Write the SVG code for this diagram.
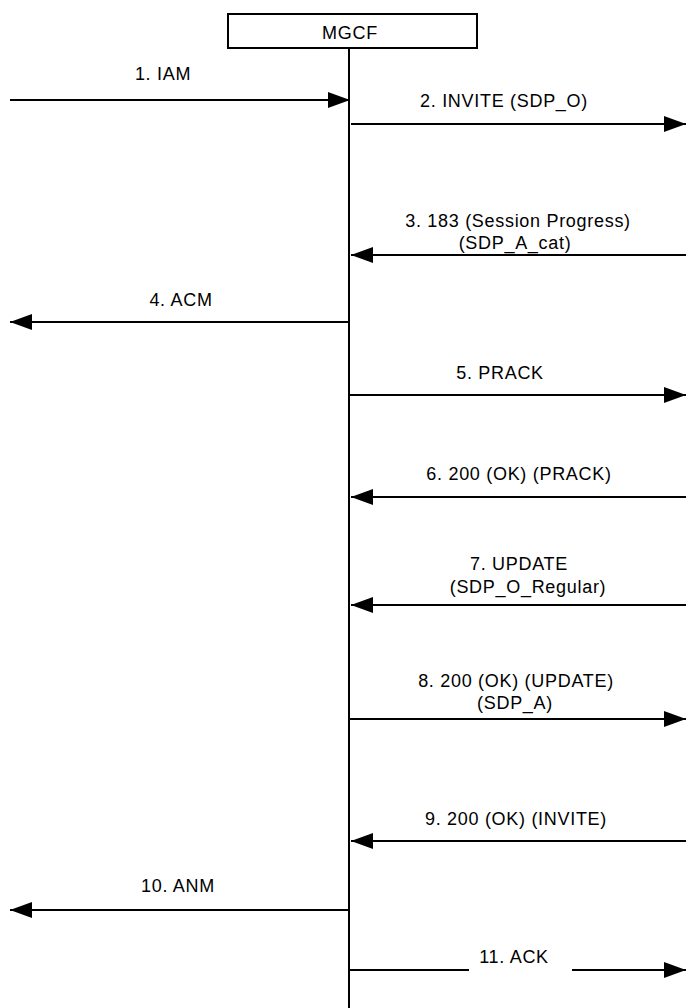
<svg xmlns="http://www.w3.org/2000/svg" width="686" height="1008" viewBox="0 0 686 1008">
<style>
text{font-family:"Liberation Sans",Arial,sans-serif;font-size:18px;letter-spacing:0.7px;fill:#000;text-anchor:middle}
.ln{stroke:#000;stroke-width:2;fill:none}
</style>
<defs>
<marker id="ah" markerUnits="userSpaceOnUse" markerWidth="22" markerHeight="16" refX="22" refY="8" orient="auto">
<path d="M0,0 L22,8 L0,16 Z" fill="#000"/>
</marker>
</defs>
<rect width="686" height="1008" fill="#fff"/>
<g id="mgcf">
<rect x="228" y="14" width="249" height="34" class="ln"/>
<text x="350" y="39">MGCF</text>
<line x1="349" y1="48" x2="349" y2="1008" class="ln"/>
</g>
<g id="connectors">
<line x1="10" y1="100" x2="350" y2="100" class="ln" marker-end="url(#ah)"/>
<line x1="351" y1="124" x2="686" y2="124" class="ln" marker-end="url(#ah)"/>
<line x1="686" y1="255" x2="351" y2="255" class="ln" marker-end="url(#ah)"/>
<line x1="349" y1="322" x2="10" y2="322" class="ln" marker-end="url(#ah)"/>
<line x1="349" y1="395" x2="686" y2="395" class="ln" marker-end="url(#ah)"/>
<line x1="686" y1="497" x2="351" y2="497" class="ln" marker-end="url(#ah)"/>
<line x1="686" y1="605" x2="351" y2="605" class="ln" marker-end="url(#ah)"/>
<line x1="349" y1="719" x2="686" y2="719" class="ln" marker-end="url(#ah)"/>
<line x1="686" y1="841" x2="351" y2="841" class="ln" marker-end="url(#ah)"/>
<line x1="349" y1="910" x2="10" y2="910" class="ln" marker-end="url(#ah)"/>
<line x1="349" y1="970" x2="469" y2="970" class="ln"/>
<line x1="572" y1="970" x2="686" y2="970" class="ln" marker-end="url(#ah)"/>
</g>
<g id="labels">
<text x="163" y="80">1. IAM</text>
<text x="504" y="107">2. INVITE (SDP_O)</text>
<text x="518" y="227">3. 183 (Session Progress)</text>
<text x="515" y="249">(SDP_A_cat)</text>
<text x="181" y="306">4. ACM</text>
<text x="500" y="379">5. PRACK</text>
<text x="519" y="480">6. 200 (OK) (PRACK)</text>
<text x="519" y="570">7. UPDATE</text>
<text x="528" y="593">(SDP_O_Regular)</text>
<text x="516" y="687">8. 200 (OK) (UPDATE)</text>
<text x="515" y="709">(SDP_A)</text>
<text x="516" y="825">9. 200 (OK) (INVITE)</text>
<text x="178" y="892">10. ANM</text>
<text x="514" y="963">11. ACK</text>
</g>
</svg>
